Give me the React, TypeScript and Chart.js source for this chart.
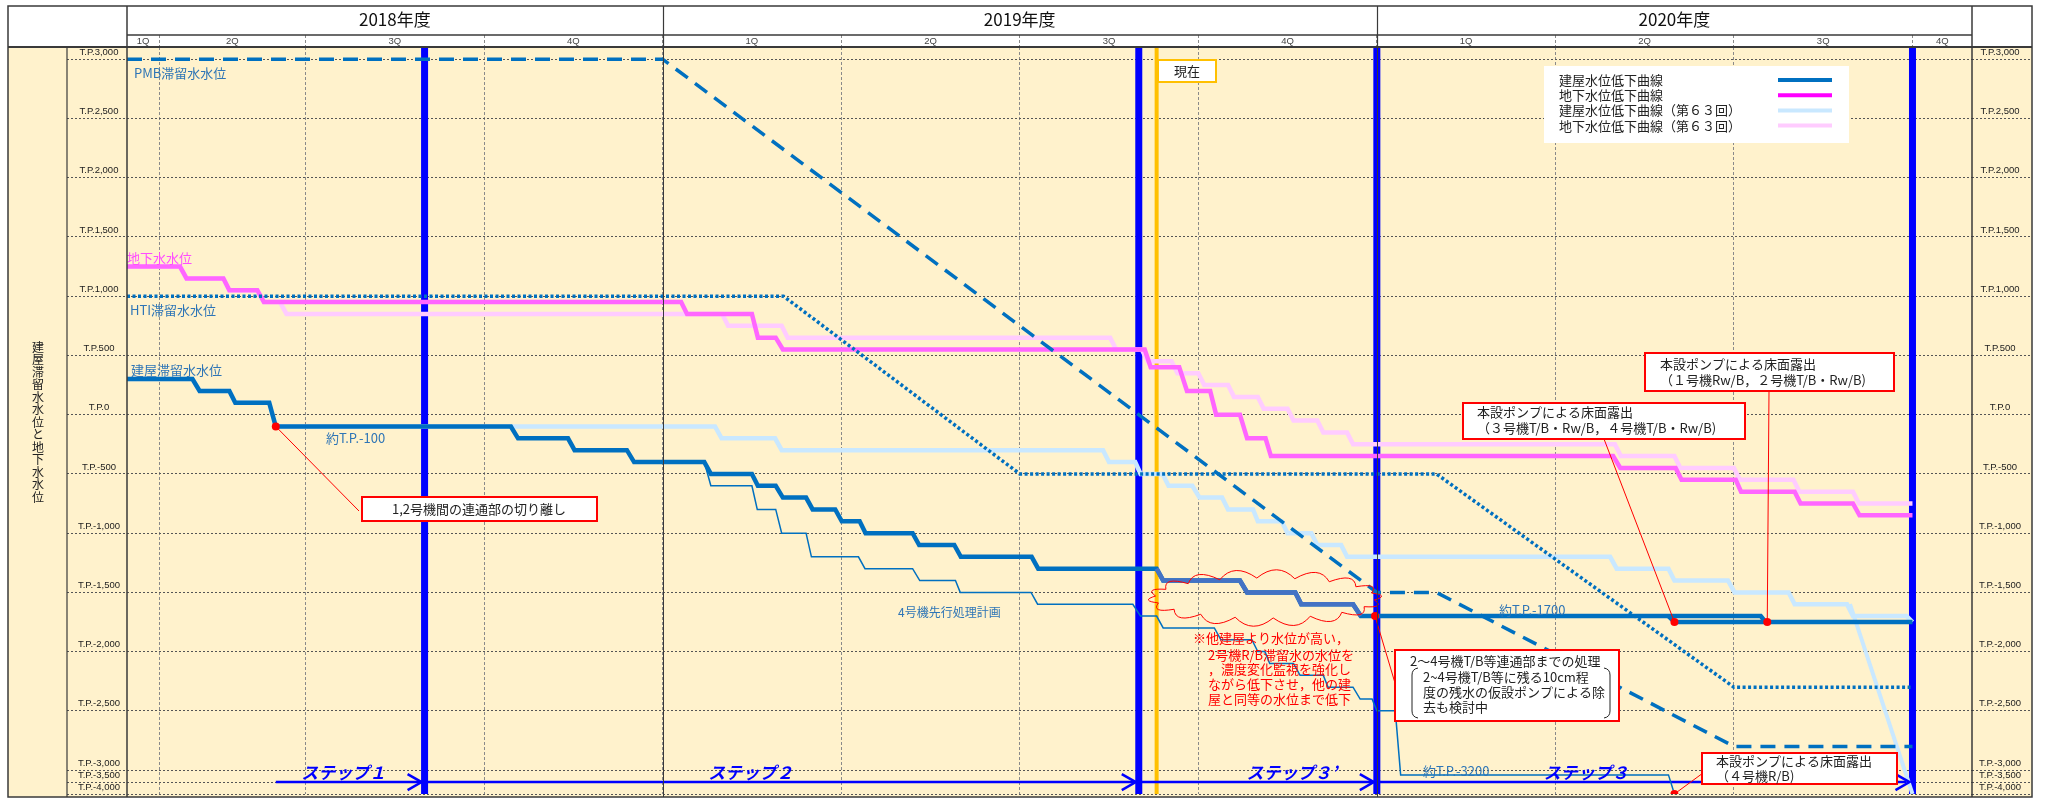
import React, { useEffect, useRef } from "react";
import { Chart, registerables } from "chart.js";
Chart.register(...registerables);

const W = 2046;
const H = 798;

// ---------- timeline (x = months from the chart's left edge) ----------
const fiscalYears = ["2018年度", "2019年度", "2020年度"];
const fiscalYearEdges = [0, 9, 21, 31];
const quarterNames = ["1Q", "2Q", "3Q", "4Q", "1Q", "2Q", "3Q", "4Q", "1Q", "2Q", "3Q", "4Q"];
const quarterEdges = [0, 0.54, 3, 6, 9, 12, 15, 18, 21, 24, 27, 30, 31];

// ---------- y ticks (T.P. mm) ----------
const yTickValues = [3000, 2500, 2000, 1500, 1000, 500, 0, -500, -1000, -1500, -2000, -2500, -3000, -3500, -4000];
const yTickLabels = [
  "T.P.3,000", "T.P.2,500", "T.P.2,000", "T.P.1,500", "T.P.1,000", "T.P.500", "T.P.0", "T.P.-500",
  "T.P.-1,000", "T.P.-1,500", "T.P.-2,000", "T.P.-2,500", "T.P.-3,000", "T.P.-3,500", "T.P.-4,000",
];

// ---------- series: [month, T.P.] ----------
const pmbLevel = [[0, 3000], [9, 3000], [21, -1500], [22, -1500], [27, -2800], [30, -2800]];
const htiLevel = [[0, 1000], [11.03, 1000], [15, -500], [22, -500], [27, -2300], [30, -2300]];

const groundwaterPlan = [
  [0, 1250], [0.89, 1250], [1.0, 1150], [1.62, 1150], [1.72, 1050], [2.19, 1050], [2.3, 950], [9.31, 950],
  [9.41, 850], [10.5, 850], [10.6, 650], [10.9, 650], [11.02, 550], [17.1, 550], [17.2, 400], [17.68, 400],
  [17.81, 200], [18.2, 200], [18.3, 0], [18.7, 0], [18.82, -200], [19.13, -200], [19.22, -350], [24.97, -350],
  [25.09, -450], [26.02, -450], [26.12, -550], [27.03, -550], [27.12, -650], [28.02, -650], [28.12, -750],
  [29.0, -750], [29.11, -850], [30.0, -850],
];
const groundwaterPlan63 = [
  [0, 1250], [0.89, 1250], [1.0, 1150], [1.62, 1150], [1.72, 1050], [2.19, 1050], [2.3, 950], [2.57, 950],
  [2.68, 850], [10.0, 850], [10.1, 750], [11.0, 750], [11.1, 650], [16.52, 650], [16.62, 550], [17.05, 550],
  [17.15, 450], [17.55, 450], [17.65, 350], [18.0, 350], [18.1, 250], [18.5, 250], [18.6, 150], [19.0, 150],
  [19.1, 50], [19.5, 50], [19.6, -50], [20.0, -50], [20.1, -150], [20.5, -150], [20.6, -250], [25.0, -250],
  [25.1, -350], [26.0, -350], [26.1, -450], [27.0, -450], [27.1, -550], [28.0, -550], [28.1, -650],
  [29.0, -650], [29.1, -750], [30.0, -750],
];
const buildingPlan = [
  [0, 300], [1.1, 300], [1.22, 200], [1.72, 200], [1.82, 100], [2.39, 100], [2.5, -100], [6.45, -100],
  [6.57, -200], [7.41, -200], [7.52, -300], [8.4, -300], [8.52, -400], [9.7, -400], [9.81, -500], [10.5, -500],
  [10.6, -600], [10.9, -600], [11.02, -700], [11.41, -700], [11.52, -800], [11.9, -800], [12.01, -900],
  [12.31, -900], [12.41, -1000], [13.2, -1000], [13.31, -1100], [13.9, -1100], [14.01, -1200], [15.2, -1200],
  [15.31, -1300], [17.3, -1300], [17.41, -1400], [18.7, -1400], [18.82, -1500], [19.63, -1500], [19.73, -1600],
  [20.6, -1600], [20.73, -1700], [27.45, -1700], [27.53, -1750], [30.0, -1750],
];
const buildingPlanEarly = [[25.9, -1700], [26.0, -1750], [27.6, -1750]];
const unit2RBPlan = [
  [17.3, -1300], [17.41, -1400], [18.7, -1400], [18.82, -1500], [19.63, -1500], [19.73, -1600], [20.6, -1600],
  [20.73, -1700],
];
const buildingPlan63 = [
  [0, 300], [1.1, 300], [1.22, 200], [1.72, 200], [1.82, 100], [2.39, 100], [2.5, -100], [9.88, -100],
  [9.99, -200], [10.89, -200], [11.0, -300], [16.4, -300], [16.5, -400], [16.94, -400], [17.03, -500],
  [17.4, -500], [17.5, -600], [17.9, -600], [18.02, -700], [18.4, -700], [18.5, -800], [18.92, -800],
  [19.0, -900], [19.4, -900], [19.5, -1000], [19.9, -1000], [20.0, -1100], [20.4, -1100], [20.5, -1200],
  [24.92, -1200], [25.03, -1300], [25.9, -1300], [26.0, -1400], [26.9, -1400], [27.01, -1500], [27.92, -1500],
  [28.02, -1600], [28.9, -1600], [29.0, -1700], [29.9, -1700], [30.0, -1750],
];
const buildingPlan63Drop = [[28.95, -1600], [30.0, -4000]];
const unit4Plan = [
  [9.7, -400], [9.81, -600], [10.5, -600], [10.59, -800], [10.9, -800], [11.0, -1000], [11.41, -1000],
  [11.5, -1200], [12.29, -1200], [12.4, -1300], [13.2, -1300], [13.32, -1400], [13.92, -1400], [14.0, -1500],
  [15.19, -1500], [15.3, -1600], [16.9, -1600], [17.03, -1700], [17.3, -1700], [17.41, -1800], [18.27, -1800],
  [18.38, -1900], [18.9, -1900], [19.0, -2000], [19.12, -2000], [19.2, -2100], [19.6, -2100], [19.71, -2200],
  [20.1, -2200], [20.18, -2300], [20.6, -2300], [20.72, -2400], [20.92, -2400], [21.0, -2500], [21.31, -2500],
  [21.4, -3200], [25.9, -3200], [26.0, -4000],
];

const stepBoundaries = [5, 17, 21, 30];
const currentMonth = 17.3;
const stepArrowStarts = [2.5, 5, 17, 21];
const stepArrowEnds = [5, 17, 21, 30];
const stepArrowLevel = -3500;
const stepNames = ["ステップ１", "ステップ２", "ステップ３’", "ステップ３"];
const redMarkers = [[2.5, -100], [20.97, -1700], [26.0, -1750], [27.56, -1750], [26.0, -4000]];

const legendNames = ["建屋水位低下曲線", "地下水位低下曲線", "建屋水位低下曲線（第６３回）", "地下水位低下曲線（第６３回）"];

// ---------- axis mapping (compressed below T.P.-3,000) ----------
const COMPRESS = 12 / 59.5;
const toAxis = (v: number) => (v >= -3000 ? v : -3000 + (v + 3000) * COMPRESS);
const Y_MAX = 3103;
const Y_MIN = toAxis(-4000);

// ---------- styles ----------
const JP = "'Noto Sans CJK JP', 'Noto Sans', sans-serif";
const C_BUILD = "#0070C0";
const C_RB = "#4472C4";
const C_GW = "#FF66FF";
const C_GW63 = "#FFCCFF";
const C_B63 = "#C9E8FF";
const C_STEP = "#0000FF";
const C_NOW = "#FFC000";
const C_LABEL = "#2E75B6";
const C_RED = "#FF0000";
const C_YELLOW = "#FFF2CC";
const C_FRAME = "#3a3a3a";

const LEFT = 8, TITLE_R = 67, PLOT_L = 127, PLOT_R = 1972, RIGHT = 2032;
const TOP = 6, YEAR_B = 35, HEAD_B = 47, BOTTOM = 797;

const pts = (arr: number[][]) => arr.map(([m, v]) => ({ x: m, y: toAxis(v) }));
const lineDs = (data: any[], color: string, width: number, extra: any = {}) => ({
  type: "line",
  data,
  borderColor: color,
  backgroundColor: color,
  borderWidth: width,
  pointRadius: 0,
  tension: 0,
  fill: false,
  borderJoinStyle: "miter",
  borderCapStyle: "butt",
  ...extra,
});

function cloud(ctx: CanvasRenderingContext2D, cx: number, cy: number, rx: number, ry: number, n: number) {
  ctx.beginPath();
  for (let i = 0; i < n; i++) {
    const a0 = (i / n) * Math.PI * 2 + 0.1;
    const a1 = ((i + 1) / n) * Math.PI * 2 + 0.1;
    const am = (a0 + a1) / 2;
    const x0 = cx + rx * Math.cos(a0), y0 = cy + ry * Math.sin(a0);
    const x1 = cx + rx * Math.cos(a1), y1 = cy + ry * Math.sin(a1);
    const xc = cx + rx * 1.14 * Math.cos(am), yc = cy + ry * 1.85 * Math.sin(am);
    if (i === 0) ctx.moveTo(x0, y0);
    ctx.quadraticCurveTo(xc, yc, x1, y1);
  }
  ctx.closePath();
  ctx.stroke();
}

function boxText(
  ctx: CanvasRenderingContext2D, x0: number, y0: number, x1: number, y1: number, border: string,
  lines: string[], tx: number, ty: number[], align: CanvasTextAlign = "left",
) {
  ctx.save();
  ctx.fillStyle = "#FFFFFF";
  ctx.fillRect(x0, y0, x1 - x0, y1 - y0);
  ctx.strokeStyle = border;
  ctx.lineWidth = 2;
  ctx.strokeRect(x0, y0, x1 - x0, y1 - y0);
  ctx.fillStyle = "#222";
  ctx.font = `13px ${JP}`;
  ctx.textAlign = align;
  ctx.textBaseline = "middle";
  lines.forEach((l, i) => ctx.fillText(l, tx, ty[i]));
  ctx.restore();
}

const backgroundPlugin = {
  id: "bg",
  beforeDraw(chart: any) {
    const ctx = chart.ctx;
    ctx.save();
    ctx.fillStyle = "#FFFFFF";
    ctx.fillRect(0, 0, W, H);
    ctx.fillStyle = C_YELLOW;
    ctx.fillRect(LEFT, HEAD_B, RIGHT - LEFT, BOTTOM - HEAD_B);
    ctx.restore();
  },
};

const overlayPlugin = {
  id: "overlay",
  afterDatasetsDraw(chart: any) {
    const ctx: CanvasRenderingContext2D = chart.ctx;
    const xs = chart.scales.x;
    const ys = chart.scales.y;
    const px = (m: number) => xs.getPixelForValue(m);
    const py = (v: number) => ys.getPixelForValue(toAxis(v));
    ctx.save();

    // arrow heads of the step arrows
    ctx.strokeStyle = C_STEP;
    ctx.lineWidth = 2.5;
    stepArrowEnds.forEach((e) => {
      const x = px(e) - 3, y = py(stepArrowLevel);
      ctx.beginPath();
      ctx.moveTo(x - 14, y - 8);
      ctx.lineTo(x, y);
      ctx.lineTo(x - 14, y + 8);
      ctx.stroke();
    });
    // step names
    const stepLabelAt = [3.64, 10.48, 19.57, 24.52];
    ctx.fillStyle = C_STEP;
    ctx.font = `italic bold 17px ${JP}`;
    ctx.textAlign = "center";
    ctx.textBaseline = "middle";
    stepNames.forEach((s, i) => ctx.fillText(s, px(stepLabelAt[i]), py(stepArrowLevel) - 10));

    // series labels
    ctx.textAlign = "left";
    ctx.textBaseline = "middle";
    ctx.font = `13px ${JP}`;
    ctx.fillStyle = C_LABEL;
    ctx.fillText("PMB滞留水水位", 134, 73);
    ctx.fillText("HTI滞留水水位", 130, 310);
    ctx.fillText("建屋滞留水水位", 131, 370);
    ctx.fillText("約T.P.-100", 326, 438);
    ctx.fillText("約T.P.-1700", 1499, 610);
    ctx.fillText("約T.P.-3200", 1423, 771);
    ctx.font = `12px ${JP}`;
    ctx.fillText("4号機先行処理計画", 898, 612);
    ctx.font = `13px ${JP}`;
    ctx.fillStyle = "#FF4DFF";
    ctx.fillText("地下水水位", 127, 258);

    // cloud + red remark
    ctx.strokeStyle = C_RED;
    ctx.lineWidth = 1;
    cloud(ctx, 1265, 598, 110, 20, 18);
    ctx.fillStyle = C_RED;
    ctx.font = `13px ${JP}`;
    ctx.fillText("※他建屋より水位が高い，", 1193, 638);
    ctx.fillText("2号機R/B滞留水の水位を", 1208, 655);
    ctx.fillText("，濃度変化監視を強化し", 1208, 669);
    ctx.fillText("ながら低下させ，他の建", 1208, 684);
    ctx.fillText("屋と同等の水位まで低下", 1208, 699);

    // leader lines
    const leaders = [
      [redMarkers[0], 359, 511],
      [redMarkers[1], 1395, 683],
      [redMarkers[2], 1604, 439],
      [redMarkers[3], 1769, 391],
      [redMarkers[4], 1703, 773],
    ];
    ctx.strokeStyle = C_RED;
    ctx.lineWidth = 1;
    leaders.forEach(([p, bx, by]: any) => {
      ctx.beginPath();
      ctx.moveTo(px(p[0]), py(p[1]));
      ctx.lineTo(bx, by);
      ctx.stroke();
    });

    // annotation boxes
    boxText(ctx, 362, 497, 597, 521, C_RED, ["1,2号機間の連通部の切り離し"], 479, [509], "center");
    boxText(ctx, 1463, 403, 1745, 439, C_RED,
      ["本設ポンプによる床面露出", "（３号機T/B・Rw/B，４号機T/B・Rw/B)"], 1477, [412, 428]);
    boxText(ctx, 1645, 353, 1894, 391, C_RED,
      ["本設ポンプによる床面露出", "（１号機Rw/B，２号機T/B・Rw/B)"], 1660, [364, 380]);
    boxText(ctx, 1395, 650, 1619, 721, C_RED,
      ["2～4号機T/B等連通部までの処理", "2~4号機T/B等に残る10cm程", "度の残水の仮設ポンプによる除", "去も検討中"],
      1410, [661, 677, 692, 707]);
    // the three detail lines are indented
    ctx.fillStyle = "#FFFFFF";
    ctx.fillRect(1397, 668, 220, 48);
    ctx.fillStyle = "#222";
    ctx.font = `13px ${JP}`;
    ctx.textAlign = "left";
    ctx.fillText("2~4号機T/B等に残る10cm程", 1423, 677);
    ctx.fillText("度の残水の仮設ポンプによる除", 1423, 692);
    ctx.fillText("去も検討中", 1423, 707);
    ctx.strokeStyle = "#222";
    ctx.lineWidth = 1;
    ctx.beginPath();
    ctx.moveTo(1418, 668); ctx.quadraticCurveTo(1412, 669, 1412, 675);
    ctx.lineTo(1412, 711); ctx.quadraticCurveTo(1412, 717, 1418, 718);
    ctx.moveTo(1604, 668); ctx.quadraticCurveTo(1610, 669, 1610, 675);
    ctx.lineTo(1610, 711); ctx.quadraticCurveTo(1610, 717, 1604, 718);
    ctx.stroke();
    boxText(ctx, 1702, 753, 1897, 784, C_RED, ["本設ポンプによる床面露出", "（４号機R/B)"], 1716, [761, 776]);

    // "現在" tag
    boxText(ctx, 1158, 60, 1216, 82, C_NOW, ["現在"], 1187, [71], "center");

    // legend
    ctx.fillStyle = "#FFFFFF";
    ctx.fillRect(1544, 66, 305, 77);
    const legColors = [C_BUILD, "#FF00FF", C_B63, C_GW63];
    ctx.font = `13px ${JP}`;
    ctx.textAlign = "left";
    ctx.textBaseline = "middle";
    legendNames.forEach((n, i) => {
      const y = 80 + i * 15.2;
      ctx.fillStyle = "#222";
      ctx.fillText(n, 1559, y);
      ctx.strokeStyle = legColors[i];
      ctx.lineWidth = 4;
      ctx.beginPath();
      ctx.moveTo(1778, y);
      ctx.lineTo(1832, y);
      ctx.stroke();
    });
    ctx.restore();
  },
  afterDraw(chart: any) {
    const ctx: CanvasRenderingContext2D = chart.ctx;
    const xs = chart.scales.x;
    const px = (m: number) => xs.getPixelForValue(m);
    ctx.save();
    ctx.strokeStyle = C_FRAME;
    ctx.lineWidth = 1.5;
    ctx.strokeRect(LEFT, TOP, RIGHT - LEFT, BOTTOM - TOP);
    const hl = (x0: number, x1: number, y: number, w = 1.5) => {
      ctx.lineWidth = w;
      ctx.beginPath(); ctx.moveTo(x0, y); ctx.lineTo(x1, y); ctx.stroke();
    };
    const vl = (x: number, y0: number, y1: number, w = 1.5) => {
      ctx.lineWidth = w;
      ctx.beginPath(); ctx.moveTo(x, y0); ctx.lineTo(x, y1); ctx.stroke();
    };
    hl(LEFT, RIGHT, HEAD_B, 2);
    hl(PLOT_L, PLOT_R, YEAR_B, 1.5);
    vl(TITLE_R, HEAD_B, BOTTOM, 1.2);
    vl(PLOT_L, TOP, BOTTOM, 1.5);
    vl(PLOT_R, TOP, BOTTOM, 1.5);
    fiscalYearEdges.slice(1, -1).forEach((e) => {
      vl(Math.round(px(e)) + 0.5, TOP, HEAD_B, 1.2);
      vl(Math.round(px(e)) + 0.5, HEAD_B, BOTTOM, 1);
    });
    // header text
    ctx.fillStyle = "#111";
    ctx.textAlign = "center";
    ctx.textBaseline = "middle";
    ctx.font = `17px ${JP}`;
    fiscalYears.forEach((y, i) => ctx.fillText(y, (px(fiscalYearEdges[i]) + px(fiscalYearEdges[i + 1])) / 2, 20));
    ctx.font = `9.5px 'Liberation Sans', sans-serif`;
    ctx.fillStyle = "#444";
    quarterNames.forEach((q, i) => ctx.fillText(q, (px(quarterEdges[i]) + px(quarterEdges[i + 1])) / 2, 41.5));
    // vertical axis title
    ctx.fillStyle = "#222";
    ctx.font = `12px ${JP}`;
    const title = "建屋滞留水水位と地下水水位";
    Array.from(title).forEach((c, i) => ctx.fillText(c, 38, 347 + i * 12.5));
    ctx.restore();
  },
};

export default function App() {
  const ref = useRef<HTMLCanvasElement | null>(null);
  useEffect(() => {
    if (!ref.current) return;
    const vertical = (m: number) => [{ x: m, y: Y_MAX }, { x: m, y: Y_MIN }];
    const datasets: any[] = [
      {
        type: "scatter", data: pts(redMarkers), pointRadius: 4, pointBackgroundColor: C_RED,
        pointBorderWidth: 0, showLine: false,
      },
      lineDs(pts(unit2RBPlan), C_RB, 4.5),
      lineDs(pts(buildingPlan), C_BUILD, 4.5),
      lineDs(pts(buildingPlanEarly), C_BUILD, 4.5),
      lineDs(pts(unit4Plan), C_BUILD, 1.5),
      lineDs(pts(pmbLevel), C_BUILD, 3.5, { borderDash: [15, 9] }),
      lineDs(pts(htiLevel), C_BUILD, 3.5, { borderDash: [3, 2.5] }),
      lineDs(pts(groundwaterPlan), C_GW, 4.5),
      lineDs(pts(groundwaterPlan63), C_GW63, 4.5),
      lineDs(pts(buildingPlan63), C_B63, 4.5),
      lineDs(pts(buildingPlan63Drop), C_B63, 4),
      ...stepArrowStarts.map((s, i) =>
        lineDs([{ x: s, y: toAxis(stepArrowLevel) }, { x: stepArrowEnds[i], y: toAxis(stepArrowLevel) }], C_STEP, 2.5)),
      lineDs(vertical(currentMonth), C_NOW, 4),
      ...stepBoundaries.map((b) => lineDs(vertical(b), C_STEP, 7)),
    ];
    const yAxis = (position: "left" | "right", onArea: boolean) => ({
      type: "linear",
      position,
      min: Y_MIN,
      max: Y_MAX,
      afterBuildTicks: (s: any) => {
        s.ticks = yTickValues.map((v) => ({ value: toAxis(v) }));
      },
      afterFit: (s: any) => {
        s.width = 60;
        s.paddingTop = 0;
        s.paddingBottom = 0;
      },
      ticks: {
        autoSkip: false,
        callback: (_v: any, i: number) => yTickLabels[i],
        crossAlign: "center",
        padding: -53,
        labelOffset: -7,
        color: "#222",
        font: { family: "'Liberation Sans', sans-serif", size: 9.5 },
      },
      grid: {
        drawOnChartArea: onArea,
        color: "#555",
        lineWidth: 1,
        drawTicks: true,
        tickLength: 60,
        tickColor: "#555",
        tickWidth: 1,
        tickBorderDash: [2, 2],
      },
      border: { display: false, dash: [2, 2] },
    });
    const chart = new Chart(ref.current, {
      data: { datasets },
      options: {
        animation: false,
        responsive: false,
        maintainAspectRatio: false,
        layout: { padding: { left: LEFT + 59, right: W - RIGHT, top: TOP, bottom: H - BOTTOM } },
        plugins: { legend: { display: false }, tooltip: { enabled: false } },
        scales: {
          x: {
            type: "linear",
            position: "top",
            min: 0,
            max: 31,
            afterBuildTicks: (s: any) => {
              s.ticks = quarterEdges.slice(1, -1).map((v) => ({ value: v }));
            },
            afterFit: (s: any) => {
              s.height = HEAD_B - TOP;
              s.paddingLeft = 0;
              s.paddingRight = 0;
            },
            ticks: { display: false },
            grid: {
              color: "#8a8a8a",
              lineWidth: 1,
              drawTicks: true,
              tickLength: HEAD_B - YEAR_B,
              tickColor: "#8a8a8a",
              tickBorderDash: [3, 2],
            },
            border: { display: false, dash: [3, 2] },
          },
          y: yAxis("left", true),
          y2: yAxis("right", false),
        },
      } as any,
      plugins: [backgroundPlugin, overlayPlugin],
    } as any);
    return () => chart.destroy();
  }, []);
  return (
    <div style={{ position: "absolute", left: 0, top: 0, width: W, height: H, background: "#fff" }}>
      <canvas ref={ref} width={W} height={H} style={{ display: "block", width: W, height: H }} />
    </div>
  );
}
